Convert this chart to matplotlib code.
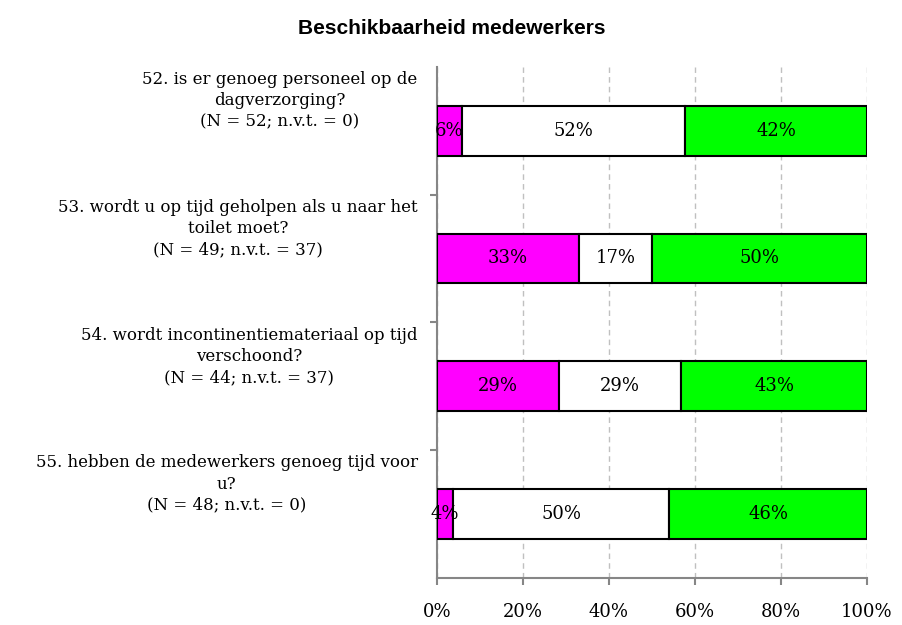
import matplotlib.pyplot as plt
from matplotlib.ticker import FuncFormatter

# Survey items
questions = [
    '52. is er genoeg personeel op de\ndagverzorging?\n(N = 52; n.v.t. = 0)',
    '53. wordt u op tijd geholpen als u naar het\ntoilet moet?\n(N = 49; n.v.t. = 37)',
    '54. wordt incontinentiemateriaal op tijd\nverschoond?\n(N = 44; n.v.t. = 37)',
    '55. hebben de medewerkers genoeg tijd voor\nu?\n(N = 48; n.v.t. = 0)',
]
# Shares per answer (percent)
nooit = [5.8, 33.0, 28.4, 3.8]
soms = [51.9, 17.0, 28.4, 50.2]
altijd = [42.3, 50.0, 43.2, 46.0]
nooit_lbl = ['6%', '33%', '29%', '4%']
soms_lbl = ['52%', '17%', '29%', '50%']
altijd_lbl = ['42%', '50%', '43%', '46%']

colors = ['#FF00FF', '#FFFFFF', '#00FF00']
serif = ['DejaVu Serif']

fig = plt.figure(figsize=(9.03, 6.25), dpi=100)
ax = fig.add_axes([0.484, 0.0752, 0.476, 0.818])

ypos = list(range(len(questions)))
left = [0.0] * len(questions)
for vals, lbls, col in [(nooit, nooit_lbl, colors[0]),
                        (soms, soms_lbl, colors[1]),
                        (altijd, altijd_lbl, colors[2])]:
    bars = ax.barh(ypos, vals, left=left, height=0.39, color=col,
                   edgecolor='black', linewidth=1.5, zorder=3)
    ax.bar_label(bars, labels=lbls, label_type='center', fontsize=13,
                 family=serif, zorder=4)
    left = [l + v for l, v in zip(left, vals)]

ax.set_xlim(0, 100)
ax.set_ylim(len(questions) - 0.5, -0.5)
ax.set_xticks([0, 20, 40, 60, 80, 100])
ax.xaxis.set_major_formatter(FuncFormatter(lambda v, p: f'{v:.0f}%'))
ax.set_yticks([0.5, 1.5, 2.5])
ax.set_yticklabels([])
ax.grid(axis='x', color='#C0C0C0', linestyle=(0, (4, 3)), linewidth=1, zorder=0)

for s in ['top', 'right']:
    ax.spines[s].set_visible(False)
for s in ['left', 'bottom']:
    ax.spines[s].set_color('#868686')
    ax.spines[s].set_linewidth(1.5)
ax.tick_params(axis='both', color='#868686', width=1.5, length=5)
ax.tick_params(axis='x', labelsize=13, pad=13)
for t in ax.get_xticklabels():
    t.set_family(serif)

# Category labels, centred block right-aligned left of the axis
for i, q in enumerate(questions):
    ax.text(-0.045, i - 0.235, q, transform=ax.get_yaxis_transform(),
            ha='right', va='center', multialignment='center',
            fontsize=12, family=serif, linespacing=1.32)

fig.text(0.5, 0.955, 'Beschikbaarheid medewerkers', ha='center', va='center',
         fontsize=15, fontweight='bold',
         family=['Liberation Sans Narrow', 'Liberation Sans'])

fig.savefig('out.png', dpi=100)
